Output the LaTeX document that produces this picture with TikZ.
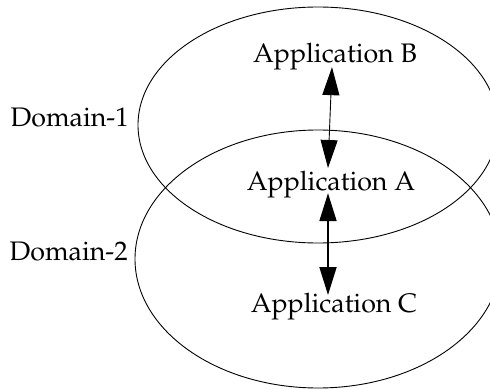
\documentclass[tikz,border=0pt]{standalone}
\usepackage[T1]{fontenc}
\usepackage{mathpazo}
\usetikzlibrary{arrows.meta}
\begin{document}
\begin{tikzpicture}[x=1pt,y=-1pt,
  lbl/.style={font=\fontsize{26.8}{32}\selectfont, inner sep=0pt, anchor=base},
  dom/.style={draw=black, line width=0.9pt},
  link/.style={{Triangle[length=28pt,width=17pt]}-{Triangle[length=28pt,width=17pt]}, line width=0.9pt},
  linkthick/.style={link, line width=1.8pt}]
\useasboundingbox (0,0) rectangle (490,390);
\draw[dom] (318,125) ellipse [x radius=180, y radius=118];
\draw[dom] (318,259) ellipse [x radius=183, y radius=129];
\node[lbl] (B) at (335,63) {Application B};
\node[lbl] (A) at (331,191) {Application A};
\node[lbl] (C) at (334,312) {Application C};
\node[lbl, anchor=base east] (D1) at (129,127) {Domain-1};
\node[lbl, anchor=base east] (D2) at (128,260) {Domain-2};
\draw[link] ([xshift=-3pt,yshift=3.6pt]B.south) -- ([xshift=-3pt,yshift=3.4pt]A.north);
\draw[linkthick] ([xshift=-3pt,yshift=5.6pt]A.south) -- ([xshift=-6pt,yshift=-2.6pt]C.north);
\end{tikzpicture}
\end{document}
